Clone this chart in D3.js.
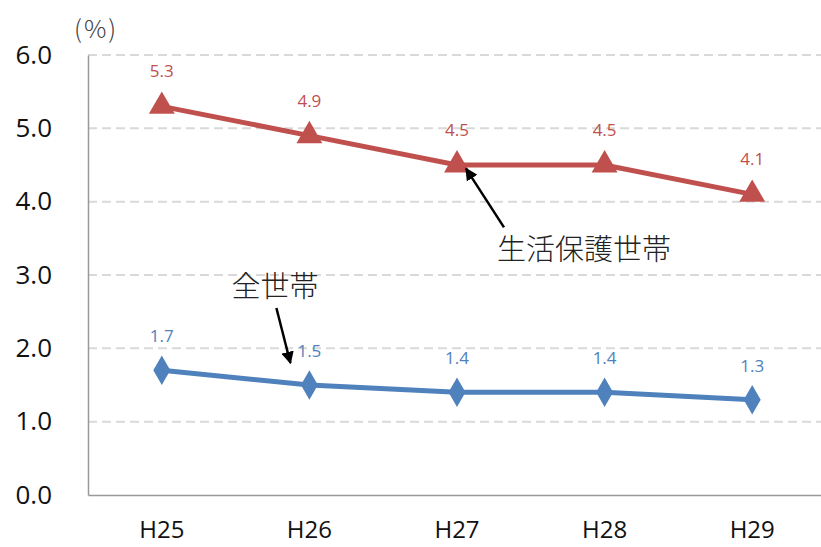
<!DOCTYPE html>
<html>
<head>
<meta charset="utf-8">
<script src="https://cdn.jsdelivr.net/npm/d3@7"></script>
<style>
  body { margin: 0; background: #fff; }
  svg { display: block; }
</style>
</head>
<body>
<div id="container"></div>
<script>
// chart data
const years = ["H25", "H26", "H27", "H28", "H29"];
const welfareValues = [5.3, 4.9, 4.5, 4.5, 4.1];   // 生活保護世帯
const allValues = [1.7, 1.5, 1.4, 1.4, 1.3];       // 全世帯
const yTicks = [0, 1, 2, 3, 4, 5, 6];

const width = 821;
const height = 547;
const marginTop = 55;
const marginBottom = 52;
const marginLeft = 88;
const plotRight = 826;

const red = "#C0504D";
const blue = "#4F81BD";

const x = d3.scaleBand()
    .domain(years)
    .range([marginLeft, plotRight])
    .padding(0);

const y = d3.scaleLinear()
    .domain([0, 6])
    .range([height - marginBottom, marginTop]);

const cx = d => x(d) + x.bandwidth() / 2;

const svg = d3.create("svg")
    .attr("width", width)
    .attr("height", height)
    .attr("viewBox", [0, 0, width, height]);

// gridlines (dashed)
svg.append("g")
  .selectAll("line")
  .data(yTicks.filter(d => d > 0))
  .join("line")
    .attr("x1", marginLeft)
    .attr("x2", plotRight)
    .attr("y1", d => y(d))
    .attr("y2", d => y(d))
    .attr("stroke", "#d9d9d9")
    .attr("stroke-width", 2)
    .attr("stroke-dasharray", "9,5");

// y axis
svg.append("g")
    .attr("transform", `translate(${marginLeft},0)`)
    .call(d3.axisLeft(y).tickValues(yTicks).tickFormat(d3.format(".1f")).tickSize(0).tickPadding(36))
    .call(g => g.select(".domain").attr("stroke", "#999").attr("stroke-width", 1.5))
    .call(g => g.selectAll("text")
        .attr("font-family", "'Open Sans', 'Noto Sans', sans-serif")
        .attr("font-size", 26)
        .attr("fill", "#111"));

// x axis
svg.append("g")
    .attr("transform", `translate(0,${height - marginBottom})`)
    .call(d3.axisBottom(x).tickSize(0).tickPadding(26).tickSizeOuter(0))
    .call(g => g.select(".domain").attr("stroke", "#999").attr("stroke-width", 1.5))
    .call(g => g.selectAll("text")
        .attr("font-family", "'Open Sans', 'Noto Sans', sans-serif")
        .attr("font-size", 24)
        .attr("fill", "#111"));

// unit label
svg.append("text")
    .attr("x", marginLeft - 14)
    .attr("y", 38)
    .attr("font-family", "'Noto Sans CJK JP', sans-serif")
    .attr("font-weight", 300)
    .attr("font-size", 25)
    .attr("letter-spacing", 2)
    .attr("fill", "#444")
    .text("(%)");

const line = d3.line()
    .x((d, i) => cx(years[i]))
    .y(d => y(d));

// 生活保護世帯 series
svg.append("path")
    .datum(welfareValues)
    .attr("fill", "none")
    .attr("stroke", red)
    .attr("stroke-width", 5)
    .attr("d", line);

svg.append("g")
  .selectAll("path")
  .data(welfareValues)
  .join("path")
    .attr("transform", (d, i) => `translate(${cx(years[i])},${y(d)})`)
    .attr("d", d3.symbol(d3.symbolTriangle, 290))
    .attr("fill", red);

svg.append("g")
  .selectAll("text")
  .data(welfareValues)
  .join("text")
    .attr("x", (d, i) => cx(years[i]))
    .attr("y", d => y(d) - 29)
    .attr("text-anchor", "middle")
    .attr("font-family", "'Open Sans', 'Noto Sans', sans-serif")
    .attr("font-size", 17)
    .attr("fill", red)
    .text(d => d.toFixed(1));

// 全世帯 series
svg.append("path")
    .datum(allValues)
    .attr("fill", "none")
    .attr("stroke", blue)
    .attr("stroke-width", 5)
    .attr("d", line);

svg.append("g")
  .selectAll("path")
  .data(allValues)
  .join("path")
    .attr("transform", (d, i) => `translate(${cx(years[i])},${y(d)})`)
    .attr("d", d3.symbol(d3.symbolDiamond, 250))
    .attr("fill", blue);

svg.append("g")
  .selectAll("text")
  .data(allValues)
  .join("text")
    .attr("x", (d, i) => cx(years[i]))
    .attr("y", d => y(d) - 28)
    .attr("text-anchor", "middle")
    .attr("font-family", "'Open Sans', 'Noto Sans', sans-serif")
    .attr("font-size", 17)
    .attr("fill", blue)
    .text(d => d.toFixed(1));

// annotations
svg.append("defs").append("marker")
    .attr("id", "arrow")
    .attr("viewBox", "0 0 10 10")
    .attr("refX", 9)
    .attr("refY", 5)
    .attr("markerWidth", 5)
    .attr("markerHeight", 5)
    .attr("orient", "auto")
  .append("path")
    .attr("d", "M0,0L10,5L0,10z")
    .attr("fill", "#000");

const note = (x1, y1, x2, y2) => svg.append("line")
    .attr("x1", x1).attr("y1", y1)
    .attr("x2", x2).attr("y2", y2)
    .attr("stroke", "#000")
    .attr("stroke-width", 2.5)
    .attr("marker-end", "url(#arrow)");

note(cx("H27") + 47, y(3.65), cx("H27") + 9, y(4.45));
svg.append("text")
    .attr("x", cx("H27") + 40)
    .attr("y", y(3.2))
    .attr("font-family", "'Noto Sans CJK JP', serif")
    .attr("font-weight", 300)
    .attr("font-size", 29)
    .attr("fill", "#222")
    .text("生活保護世帯");

note(cx("H26") - 33, y(2.55), cx("H26") - 19, y(1.8));
svg.append("text")
    .attr("x", cx("H26") - 78)
    .attr("y", y(2.7))
    .attr("font-family", "'Noto Sans CJK JP', serif")
    .attr("font-weight", 300)
    .attr("font-size", 29)
    .attr("fill", "#222")
    .text("全世帯");

container.append(svg.node());
</script>
</body>
</html>
